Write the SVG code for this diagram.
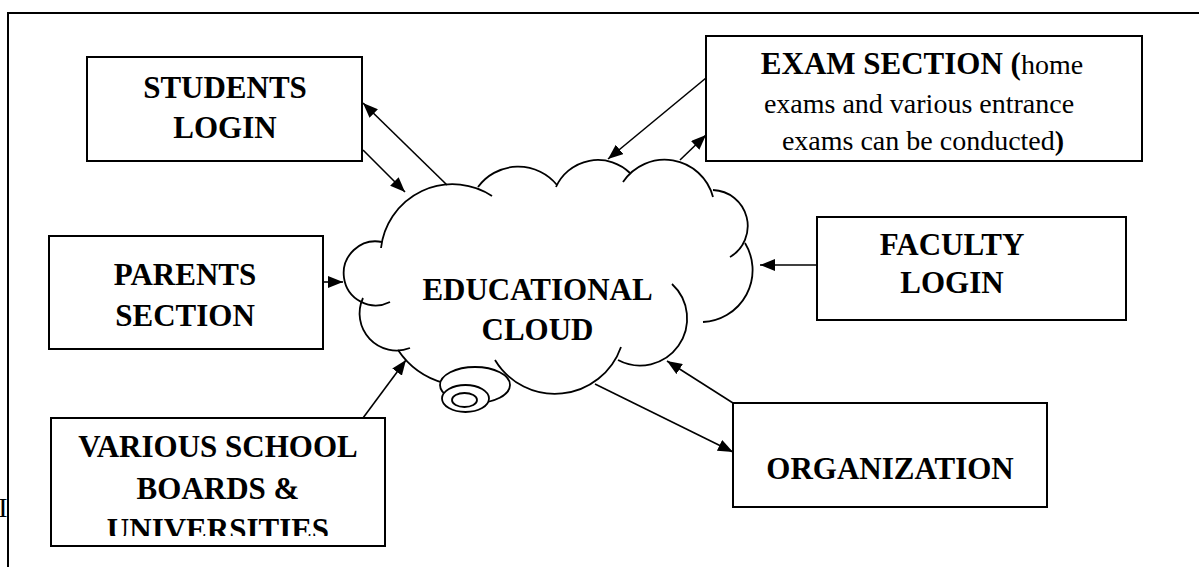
<svg xmlns="http://www.w3.org/2000/svg" width="1199" height="567" viewBox="0 0 1199 567" font-family="Liberation Serif, DejaVu Serif, serif">
  <style>
    .box { fill: #fff; stroke: #000; stroke-width: 2; }
    text { font-family: 'Liberation Serif', 'DejaVu Serif', serif; fill: #000; }
    .lbl { font-weight: bold; font-size: 31px; text-anchor: middle; }
    .reg { font-weight: normal; font-size: 28px; text-anchor: middle; }
    .conn { stroke: #000; stroke-width: 1.6; fill: none; marker-end: url(#arrow); }
    .bump { fill: none; stroke: #000; stroke-width: 1.8; }
    .tail { fill: #fff; stroke: #000; stroke-width: 1.8; }
  </style>
  <defs>
    <marker id="arrow" markerUnits="userSpaceOnUse" markerWidth="16" markerHeight="12" refX="15" refY="6" orient="auto">
      <path d="M0,0 L15,6 L0,12 Z" fill="#000"/>
    </marker>
    <clipPath id="boardsClip">
      <rect x="51" y="418" width="334" height="118"/>
    </clipPath>
    <clipPath id="edgeClip">
      <rect x="0" y="480" width="7" height="60"/>
    </clipPath>
  </defs>
  <rect width="1199" height="567" fill="#fff"/>

  <!-- page frame -->
  <path d="M8,567 V13 H1199" fill="none" stroke="#000" stroke-width="2"/>
  <text x="3" y="517" class="reg" font-size="31" clip-path="url(#edgeClip)">I</text>

  <!-- central cloud -->
  <g id="cloud">
    <path class="bump" d="M390,302 A32,32 0 1 1 382,242"/>
    <path class="bump" d="M381,248 A72,72 0 0 1 492,196"/>
    <path class="bump" d="M478,187 A50,50 0 0 1 557,185"/>
    <path class="bump" d="M556,187 A46,46 0 0 1 630,173"/>
    <path class="bump" d="M623,182 A50,50 0 0 1 713,197"/>
    <path class="bump" d="M713,190 A36,36 0 0 1 730,257"/>
    <path class="bump" d="M745,243 A52,52 0 0 1 703,322"/>
    <path class="bump" d="M672,284 A47,47 0 0 1 618,360"/>
    <path class="bump" d="M621,347 A70,70 0 0 1 495,360"/>
    <path class="bump" d="M500,378 A81,81 0 0 1 398,350"/>
    <path class="bump" d="M410,348 A37,37 0 0 1 363,298"/>
    <ellipse class="tail" cx="475" cy="385" rx="35" ry="18"/>
    <ellipse class="tail" cx="465.5" cy="398.5" rx="23.5" ry="13.5"/>
    <ellipse class="tail" cx="464.5" cy="400" rx="12.5" ry="7"/>
    <text class="lbl" x="537.5" y="300">EDUCATIONAL</text>
    <text class="lbl" x="537.5" y="340">CLOUD</text>
  </g>

  <!-- connectors -->
  <g id="connectors">
    <line class="conn" x1="447" y1="185" x2="363" y2="103"/>
    <line class="conn" x1="363" y1="150" x2="405" y2="192"/>
    <line class="conn" x1="706" y1="78" x2="608" y2="159"/>
    <line class="conn" x1="680" y1="160" x2="706" y2="135"/>
    <line class="conn" x1="817" y1="265" x2="760" y2="265"/>
    <line class="conn" x1="323" y1="282" x2="343" y2="282"/>
    <line class="conn" x1="363" y1="418" x2="406" y2="360"/>
    <line class="conn" x1="733" y1="403" x2="667" y2="361"/>
    <line class="conn" x1="595" y1="384" x2="733" y2="452"/>
  </g>

  <g id="students">
    <rect class="box" x="87" y="57" width="275" height="104"/>
    <text class="lbl" x="225" y="98">STUDENTS</text>
    <text class="lbl" x="225" y="138">LOGIN</text>
  </g>

  <g id="exam">
    <rect class="box" x="706" y="36" width="436" height="125"/>
    <text class="reg" x="922" y="74"><tspan font-weight="bold" font-size="31">EXAM SECTION (</tspan>home</text>
    <text class="reg" x="919" y="113">exams and various entrance</text>
    <text class="reg" x="923" y="150">exams can be conducted<tspan font-weight="bold">)</tspan></text>
  </g>

  <g id="parents">
    <rect class="box" x="49" y="236" width="274" height="113"/>
    <text class="lbl" x="185" y="285">PARENTS</text>
    <text class="lbl" x="185" y="326">SECTION</text>
  </g>

  <g id="faculty">
    <rect class="box" x="817" y="217" width="309" height="103"/>
    <text class="lbl" x="952" y="255">FACULTY</text>
    <text class="lbl" x="952" y="293">LOGIN</text>
  </g>

  <g id="boards">
    <rect class="box" x="51" y="418" width="334" height="128"/>
    <g clip-path="url(#boardsClip)">
      <text class="lbl" x="218" y="457">VARIOUS SCHOOL</text>
      <text class="lbl" x="218" y="499">BOARDS &amp;</text>
      <text class="lbl" x="218" y="540">UNIVERSITIES</text>
    </g>
  </g>

  <g id="organization">
    <rect class="box" x="733" y="403" width="314" height="104"/>
    <text class="lbl" x="890" y="479">ORGANIZATION</text>
  </g>
</svg>
